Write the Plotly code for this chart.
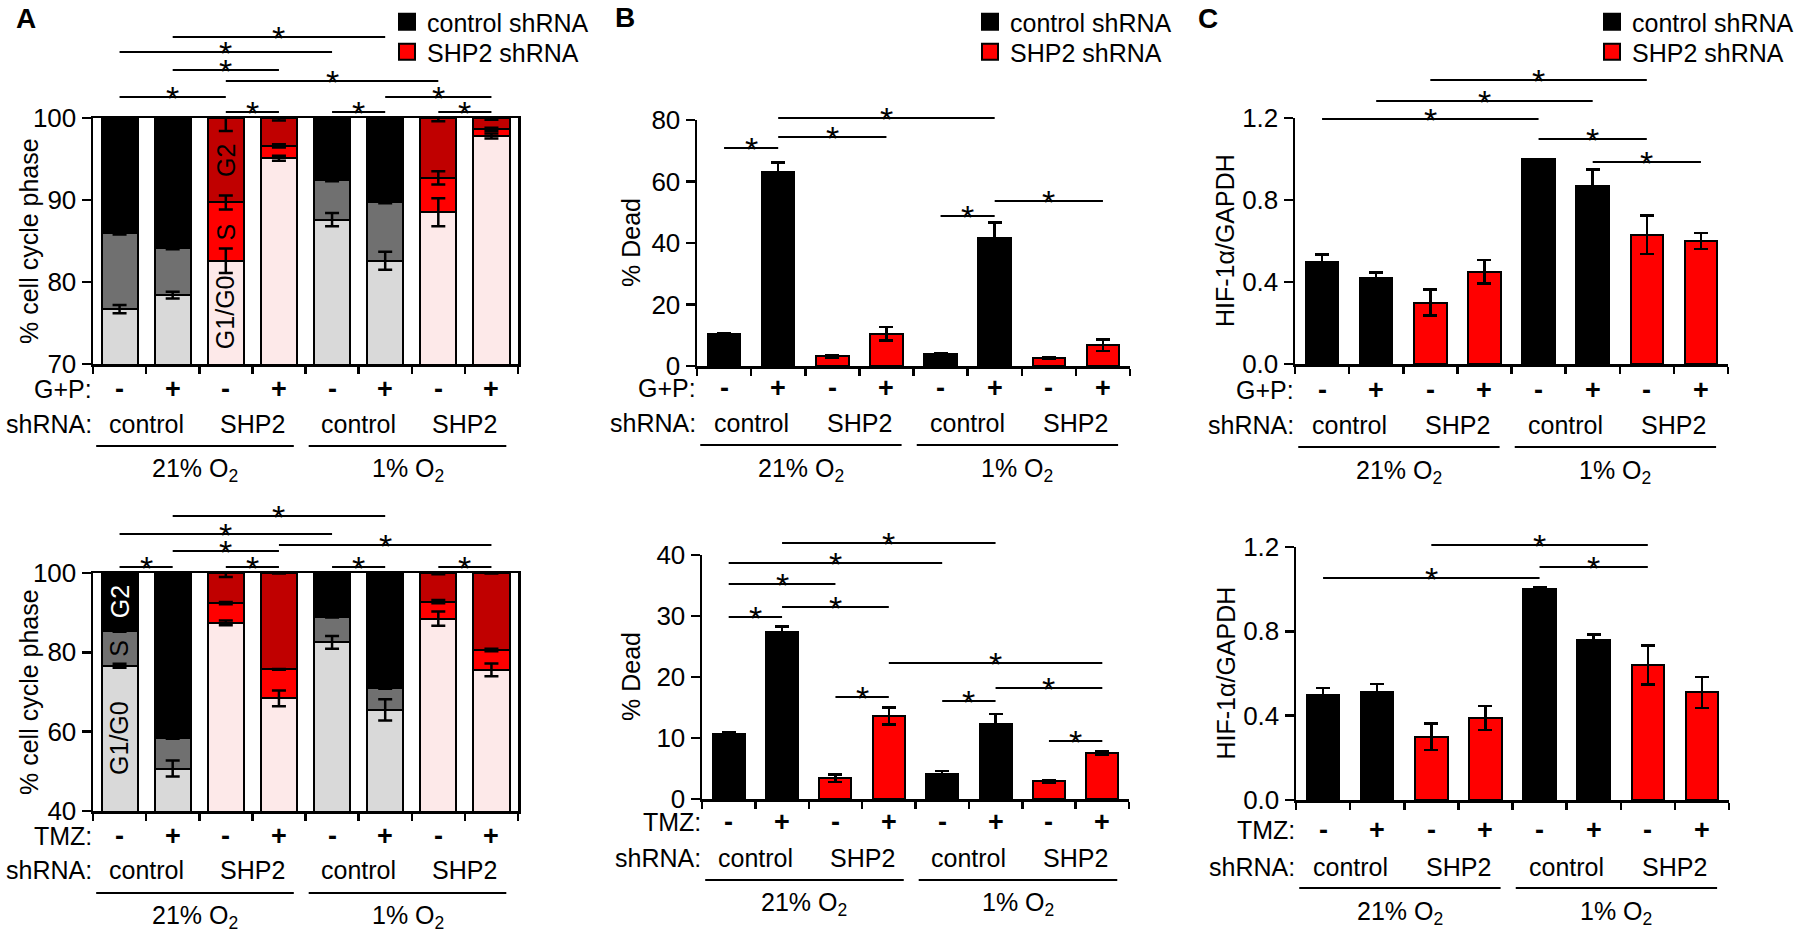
import plotly.graph_objects as go

W, H = 1800, 935
FONT = "Liberation Sans, Arial, Helvetica, sans-serif"

# ---------------- data ----------------
treat_sign = ['-', '+', '-', '+', '-', '+', '-', '+']
bar_shrna = ['control', 'control', 'SHP2', 'SHP2', 'control', 'control', 'SHP2', 'SHP2']
shrna_pairs = ['control', 'SHP2', 'control', 'SHP2']
oxygen_groups = ['21% O<sub>2</sub>', '1% O<sub>2</sub>']
series_names = ['control shRNA', 'SHP2 shRNA']
phase_names = ['G1/G0', 'S', 'G2']

# Panel A (G+P): cumulative top of each cell-cycle phase (%); G2 runs to 100
a_gp_g1 = [76.7, 78.4, 82.6, 95.1, 87.6, 82.6, 88.5, 97.8]
a_gp_g1_err = [0.5, 0.4, 1.5, 0.3, 0.8, 1.1, 1.7, 0.3]
a_gp_s = [86.0, 84.2, 89.7, 96.6, 92.4, 89.7, 92.7, 98.6]
a_gp_s_err = [0.2, 0.2, 0.85, 0.2, 0.1, 0.1, 0.8, 0.2]
a_gp_g2_err = [0.0, 0.0, 1.6, 0.3, 0.0, 0.0, 0.4, 0.2]

# Panel A (TMZ)
a_tmz_g1 = [76.6, 50.7, 87.4, 68.4, 82.5, 65.5, 88.5, 75.6]
a_tmz_g1_err = [0.5, 2.0, 0.6, 2.0, 1.6, 2.7, 1.8, 1.6]
a_tmz_s = [85.5, 58.3, 92.4, 75.7, 89.0, 70.9, 92.8, 80.6]
a_tmz_s_err = [0.3, 0.1, 0.3, 0.1, 0.2, 0.1, 0.4, 0.3]
a_tmz_g2_err = [0.0, 0.0, 1.0, 0.1, 0.0, 0.0, 0.3, 0.1]

# Panel B: % dead
b_gp = [10.5, 63.2, 3.1, 10.5, 4.0, 41.7, 2.6, 6.7]
b_gp_err = [0.2, 2.9, 0.5, 2.2, 0.3, 4.9, 0.3, 1.9]
b_tmz = [10.7, 27.4, 3.4, 13.6, 4.1, 12.3, 2.9, 7.6]
b_tmz_err = [0.2, 0.9, 0.6, 1.4, 0.5, 1.6, 0.2, 0.3]

# Panel C: HIF-1a / GAPDH
c_gp = [0.50, 0.42, 0.30, 0.45, 1.00, 0.87, 0.63, 0.60]
c_gp_err = [0.034, 0.026, 0.064, 0.057, 0.0, 0.078, 0.094, 0.04]
c_tmz = [0.50, 0.51, 0.30, 0.39, 1.00, 0.76, 0.64, 0.51]
c_tmz_err = [0.032, 0.04, 0.063, 0.057, 0.007, 0.025, 0.092, 0.073]

# significant comparisons (bar index pairs)
sig_a_gp = [(1, 5), (0, 4), (1, 3), (2, 6), (0, 2), (5, 7), (2, 3), (4, 5), (6, 7)]
sig_a_tmz = [(1, 5), (0, 4), (1, 3), (3, 7), (0, 1), (2, 3), (4, 5), (6, 7)]
sig_b_gp = [(1, 5), (1, 3), (0, 1), (4, 5), (5, 7)]
sig_b_tmz = [(1, 5), (0, 4), (0, 2), (1, 3), (0, 1), (3, 7), (5, 7), (2, 3), (4, 5), (6, 7)]
sig_c_gp = [(2, 6), (1, 5), (0, 4), (4, 6), (5, 7)]
sig_c_tmz = [(2, 6), (4, 6), (0, 4)]

# ---------------- styling ----------------
phase_colors = {
    'control': {'G1/G0': '#d9d9d9', 'S': '#707070', 'G2': '#000000'},
    'SHP2': {'G1/G0': '#fde9e9', 'S': '#ff0000', 'G2': '#c00000'},
}
series_colors = {'control': '#000000', 'SHP2': '#ff0000'}


def py(p):
    return 1 - p / H


panels = [
    dict(n=1, kind='stack', treat='G+P:', xd=(93, 518), yd=(118, 364), yr=[70, 100],
         yt=[70, 80, 90, 100], ytxt=['70', '80', '90', '100'],
         data=(a_gp_g1, a_gp_g1_err, a_gp_s, a_gp_s_err, a_gp_g2_err), sig=sig_a_gp,
         sig_y=[37, 52, 70, 81, 97, 97, 112, 112, 112],
         rows=(389, 424, 446, 466), title='% cell cycle phase', tx=29,
         label_bar=2, g2_text='black'),
    dict(n=2, kind='stack', treat='TMZ:', xd=(93, 518), yd=(573, 811), yr=[40, 100],
         yt=[40, 60, 80, 100], ytxt=['40', '60', '80', '100'],
         data=(a_tmz_g1, a_tmz_g1_err, a_tmz_s, a_tmz_s_err, a_tmz_g2_err), sig=sig_a_tmz,
         sig_y=[516, 534, 551, 545, 567, 567, 567, 567],
         rows=(836, 870, 893, 913), title='% cell cycle phase', tx=29,
         label_bar=0, g2_text='white'),
    dict(n=3, kind='bar', treat='G+P:', xd=(697, 1130), yd=(120, 366), yr=[0, 80],
         yt=[0, 20, 40, 60, 80], ytxt=['0', '20', '40', '60', '80'],
         data=(b_gp, b_gp_err), sig=sig_b_gp, sig_y=[118, 137, 148, 216, 201],
         rows=(388, 423, 445, 466), title='% Dead', tx=631),
    dict(n=4, kind='bar', treat='TMZ:', xd=(702, 1129), yd=(555, 799), yr=[0, 40],
         yt=[0, 10, 20, 30, 40], ytxt=['0', '10', '20', '30', '40'],
         data=(b_tmz, b_tmz_err), sig=sig_b_tmz,
         sig_y=[543, 563, 584, 607, 617, 663, 688, 697, 701, 741],
         rows=(822, 858, 880, 900), title='% Dead', tx=631),
    dict(n=5, kind='bar', treat='G+P:', xd=(1295, 1728), yd=(118, 364), yr=[0, 1.2],
         yt=[0, 0.4, 0.8, 1.2], ytxt=['0.0', '0.4', '0.8', '1.2'],
         data=(c_gp, c_gp_err), sig=sig_c_gp, sig_y=[80, 101, 119, 139, 162],
         rows=(390, 425, 447, 468), title='HIF-1α/GAPDH', tx=1225),
    dict(n=6, kind='bar', treat='TMZ:', xd=(1296, 1729), yd=(547, 800), yr=[0, 1.2],
         yt=[0, 0.4, 0.8, 1.2], ytxt=['0.0', '0.4', '0.8', '1.2'],
         data=(c_tmz, c_tmz_err), sig=sig_c_tmz, sig_y=[545, 567, 578],
         rows=(830, 867, 888, 909), title='HIF-1α/GAPDH', tx=1225),
]

fig = go.Figure()
layout = {}
annotations = []
shapes = []
ncat = len(treat_sign)
xs = list(range(ncat))
LW = 2.5

for p in panels:
    n = p['n']
    sfx = '' if n == 1 else str(n)
    xid, yid = 'x' + sfx, 'y' + sfx
    frame = p['kind'] == 'stack'
    layout['xaxis' + sfx] = dict(
        domain=[p['xd'][0] / W, p['xd'][1] / W], anchor=yid, range=[-0.5, ncat - 0.5],
        tickvals=[i - 0.5 for i in range(ncat + 1)], ticktext=[''] * (ncat + 1),
        ticks='outside', ticklen=7, tickwidth=LW, tickcolor='black',
        showline=True, linewidth=LW, linecolor='black', mirror=frame,
        showgrid=False, zeroline=False, fixedrange=True, automargin=False)
    layout['yaxis' + sfx] = dict(
        domain=[py(p['yd'][1]), py(p['yd'][0])], anchor=xid, range=p['yr'],
        tickvals=p['yt'], ticktext=p['ytxt'], ticks='outside', ticklen=9,
        tickwidth=LW, tickcolor='black', showline=True, linewidth=LW, linecolor='black',
        mirror=frame, showgrid=False, zeroline=False, fixedrange=True, automargin=False,
        tickfont=dict(family=FONT, size=26, color='black'))

    if p['kind'] == 'stack':
        g1, g1e, s, se, g2e = p['data']
        tops = {'G1/G0': g1, 'S': s, 'G2': [100] * ncat}
        errs = {'G1/G0': g1e, 'S': se, 'G2': g2e}
        bottoms = {'G1/G0': [0] * ncat, 'S': g1, 'G2': s}
        for ph in phase_names:
            fig.add_trace(go.Bar(
                x=xs, y=[t - b for t, b in zip(tops[ph], bottoms[ph])], width=0.68,
                marker=dict(color=[phase_colors[g][ph] for g in bar_shrna],
                            line=dict(color='black', width=2)),
                xaxis=xid, yaxis=yid, showlegend=False, hoverinfo='skip'))
        for ph in phase_names:
            fig.add_trace(go.Scatter(
                x=xs, y=tops[ph], mode='markers', marker=dict(size=1, color='rgba(0,0,0,0)'),
                error_y=dict(type='data', array=errs[ph], color='black', thickness=LW, width=7),
                xaxis=xid, yaxis=yid, showlegend=False, hoverinfo='skip'))
        # phase labels inside one bar
        b = p['label_bar']
        lo = p['yr'][0]
        mids = {'G1/G0': (max(lo, 0) + g1[b]) / 2, 'S': (g1[b] + s[b]) / 2, 'G2': (s[b] + 100) / 2}
        for ph in phase_names:
            col = p['g2_text'] if ph == 'G2' else 'black'
            annotations.append(dict(x=b, y=mids[ph], xref=xid, yref=yid, text=ph,
                                    textangle=-90, showarrow=False,
                                    font=dict(family=FONT, size=25, color=col)))
    else:
        vals, errs = p['data']
        fig.add_trace(go.Bar(
            x=xs, y=vals, width=0.6,
            marker=dict(color=[series_colors[g] for g in bar_shrna],
                        line=dict(color='black', width=2)),
            error_y=dict(type='data', array=errs, color='black', thickness=LW, width=7),
            xaxis=xid, yaxis=yid, showlegend=False, hoverinfo='skip'))

    # significance brackets
    for (i, j), lvl in zip(p['sig'], p['sig_y']):
        shapes.append(dict(type='line', xref=xid, yref='paper', x0=i, x1=j,
                           y0=py(lvl), y1=py(lvl), line=dict(color='black', width=2)))
        annotations.append(dict(x=(i + j) / 2, y=py(lvl + 1), xref=xid, yref='paper',
                                text='*', showarrow=False, yanchor='middle',
                                font=dict(family=FONT, size=34, color='black')))

    sign_y, shrna_y, line_y, o2_y = p['rows']
    # treatment signs
    for i, sgn in enumerate(treat_sign):
        annotations.append(dict(x=i, y=py(sign_y), xref=xid, yref='paper',
                                text='<b>' + sgn + '</b>', showarrow=False, yanchor='middle',
                                font=dict(family=FONT, size=27, color='black')))
    # row labels
    for txt, yy in [(p['treat'], sign_y), ('shRNA:', shrna_y)]:
        annotations.append(dict(x=(p['xd'][0] + 1) / W, y=py(yy), xref='paper', yref='paper',
                                text=txt, showarrow=False, xanchor='right', yanchor='middle',
                                font=dict(family=FONT, size=25, color='black')))
    # shRNA pair labels
    for k, lab in enumerate(shrna_pairs):
        annotations.append(dict(x=2 * k + 0.5, y=py(shrna_y), xref=xid, yref='paper',
                                text=lab, showarrow=False, yanchor='middle',
                                font=dict(family=FONT, size=25, color='black')))
    # oxygen groups
    for k, lab in enumerate(oxygen_groups):
        first, last = 4 * k, 4 * k + 3
        x0, x1 = first - 0.44, last + 0.28
        shapes.append(dict(type='line', xref=xid, yref='paper', x0=x0, x1=x1,
                           y0=py(line_y), y1=py(line_y), line=dict(color='black', width=2)))
        annotations.append(dict(x=(x0 + x1) / 2, y=py(o2_y - 14), xref=xid, yref='paper',
                                text=lab, showarrow=False, yanchor='top',
                                font=dict(family=FONT, size=25, color='black')))
    # y title
    annotations.append(dict(x=p['tx'] / W, y=(py(p['yd'][0]) + py(p['yd'][1])) / 2,
                            xref='paper', yref='paper', text=p['title'], textangle=-90,
                            showarrow=False, xanchor='center', yanchor='middle',
                            font=dict(family=FONT, size=25, color='black')))

# panel letters
for letter, (lx, ly) in zip(['A', 'B', 'C'], [(26, 18), (625, 17), (1208, 18)]):
    annotations.append(dict(x=lx / W, y=py(ly), xref='paper', yref='paper',
                            text='<b>' + letter + '</b>', showarrow=False,
                            xanchor='center', yanchor='middle',
                            font=dict(family=FONT, size=28, color='black')))

# legends: one entry per legend box so rows can be placed exactly
legend_x = [387, 970, 1592]
legend_rows = [22, 52]
lcount = 0
for lxp, axn in zip(legend_x, ['', '3', '5']):
    for name, grp, ly in zip(series_names, ['control', 'SHP2'], legend_rows):
        lcount += 1
        lid = 'legend' if lcount == 1 else 'legend' + str(lcount)
        fig.add_trace(go.Scatter(
            x=[None], y=[None], mode='markers', name=name, legend=lid,
            marker=dict(symbol='square', size=16, color=series_colors[grp],
                        line=dict(color='black', width=2)),
            xaxis='x' + axn, yaxis='y' + axn, showlegend=True, hoverinfo='skip'))
        layout[lid] = dict(x=lxp / W, y=py(ly), xanchor='left', yanchor='middle',
                           bgcolor='rgba(0,0,0,0)', borderwidth=0, traceorder='normal',
                           itemclick=False, itemdoubleclick=False,
                           font=dict(family=FONT, size=25, color='black'))

fig.update_layout(
    width=W, height=H, margin=dict(l=0, r=0, t=0, b=0, pad=0, autoexpand=False),
    paper_bgcolor='white', plot_bgcolor='white', barmode='stack', bargap=0,
    font=dict(family=FONT, size=24, color='black'), hovermode=False,
    annotations=annotations, shapes=shapes, showlegend=True, **layout)

fig.write_html("out.html", config={'displayModeBar': False, 'staticPlot': True},
               post_script="document.body.style.margin='0';document.body.style.overflow='hidden';")
